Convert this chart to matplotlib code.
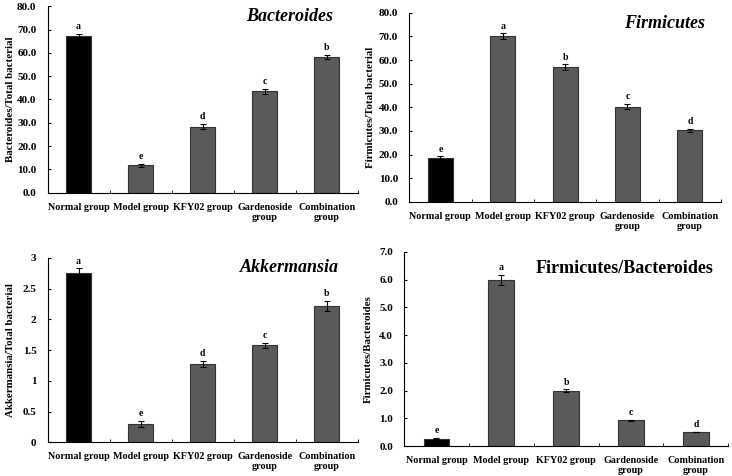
import numpy as np
import matplotlib
matplotlib.use("Agg")
import matplotlib.pyplot as plt
from matplotlib.ticker import FixedLocator, NullFormatter

plt.rcParams['font.family'] = ['Liberation Serif', 'DejaVu Serif']
plt.rcParams['font.weight'] = 'bold'

groups = ["Normal group", "Model group", "KFY02 group", "Gardenoside\ngroup", "Combination\ngroup"]

bact = [67.3, 11.8, 28.4, 43.5, 58.3]
bact_err = [0.9, 0.7, 1.0, 1.0, 0.9]
bact_sig = ["a", "e", "d", "c", "b"]

firm = [18.6, 70.1, 57.0, 40.3, 30.3]
firm_err = [0.6, 1.2, 1.2, 1.0, 0.7]
firm_sig = ["e", "a", "b", "c", "d"]

akk = [2.76, 0.30, 1.28, 1.58, 2.22]
akk_err = [0.07, 0.05, 0.05, 0.04, 0.08]
akk_sig = ["a", "e", "d", "c", "b"]

fb = [0.26, 5.97, 2.00, 0.92, 0.51]
fb_err = [0.02, 0.18, 0.04, 0.01, 0.01]
fb_sig = ["e", "a", "b", "c", "d"]

fig = plt.figure(figsize=(7.32, 4.76), dpi=100)

panels = [
    dict(rect=[0.065, 0.595, 0.424, 0.392], vals=bact, err=bact_err, sig=bact_sig,
         ylim=80, yticks=np.arange(0, 81, 10), fmt="{:.1f}", ylabel="Bacteroides/Total bacterial",
         title="Bacteroides", tstyle="italic", tsize=13, tpos=(0.92, 0.945), lx=-0.105),
    dict(rect=[0.559, 0.576, 0.426, 0.397], vals=firm, err=firm_err, sig=firm_sig,
         ylim=80, yticks=np.arange(0, 81, 10), fmt="{:.1f}", ylabel="Firmicutes/Total bacterial",
         title="Firmicutes", tstyle="italic", tsize=13, tpos=(0.95, 0.945), lx=-0.11),
    dict(rect=[0.065, 0.071, 0.424, 0.387], vals=akk, err=akk_err, sig=akk_sig,
         ylim=3, yticks=[0, 0.5, 1, 1.5, 2, 2.5, 3], fmt="{:g}", ylabel="Akkermansia/Total bacterial",
         title="Akkermansia", tstyle="italic", tsize=13, tpos=(0.94, 0.95), lx=-0.105),
    dict(rect=[0.552, 0.063, 0.443, 0.408], vals=fb, err=fb_err, sig=fb_sig,
         ylim=7, yticks=np.arange(0, 8, 1), fmt="{:.1f}", ylabel="Firmicutes/Bacteroides",
         title="Firmicutes/Bacteroides", tstyle="normal", tsize=13, tpos=(0.955, 0.915), lx=-0.098),
]

x = np.arange(len(groups))
for p in panels:
    ax = fig.add_axes(p["rect"])
    colors = ["black"] + ["#5a5a5a"] * 4
    ax.bar(x, p["vals"], width=0.4, color=colors, edgecolor="#333333", linewidth=0.8,
           yerr=p["err"], error_kw=dict(ecolor="black", elinewidth=0.8, capsize=2, capthick=0.8))
    for xi, v, e, s in zip(x, p["vals"], p["err"], p["sig"]):
        ax.text(xi, v + e + p["ylim"] * 0.015, s, ha="center", va="bottom", fontsize=7, fontweight="bold")
    ax.set_xlim(-0.5, 4.5)
    ax.set_ylim(0, p["ylim"])
    ax.set_yticks(p["yticks"])
    ax.set_yticklabels([p["fmt"].format(t) for t in p["yticks"]], fontsize=8, fontweight="bold")
    ax.set_xticks(x)
    ax.set_xticklabels(groups, fontsize=7.3, fontweight="bold", linespacing=1.15)
    ax.tick_params(axis="x", which="major", length=0, pad=7)
    ax.xaxis.set_minor_locator(FixedLocator([0.5, 1.5, 2.5, 3.5, 4.5]))
    ax.xaxis.set_minor_formatter(NullFormatter())
    ax.tick_params(axis="x", which="minor", length=2.5, direction="in")
    ax.tick_params(axis="y", length=2.5, direction="in", pad=8)
    ax.spines["top"].set_visible(False)
    ax.spines["right"].set_visible(False)
    ax.set_ylabel(p["ylabel"], fontsize=7.8, fontweight="bold")
    ax.yaxis.set_label_coords(p["lx"], 0.5)
    ax.text(p["tpos"][0], p["tpos"][1], p["title"], transform=ax.transAxes, ha="right", va="center",
            fontsize=p["tsize"], fontweight="bold", fontstyle=p["tstyle"])

fig.savefig("out.png", dpi=100)
